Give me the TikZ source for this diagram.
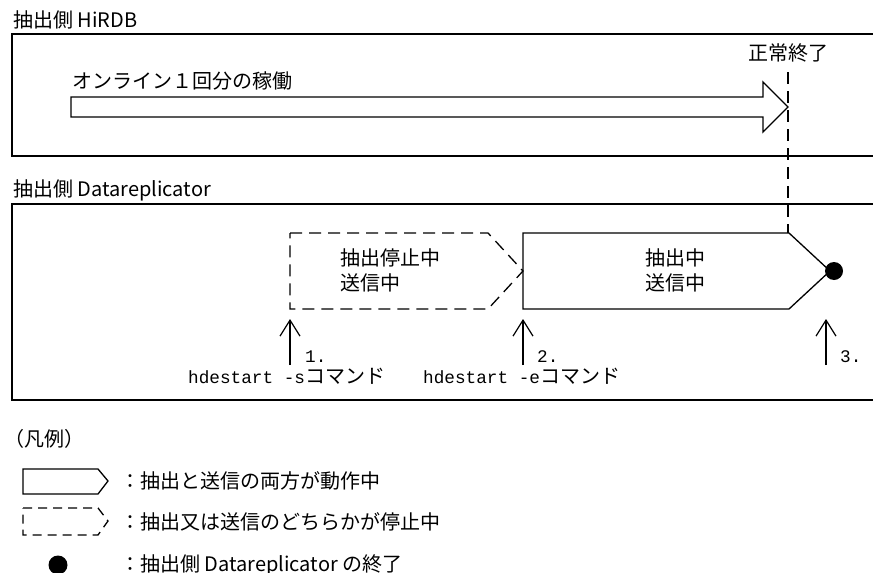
\documentclass[tikz,border=0pt]{standalone}
\usepackage{fontspec}
\setmainfont{Noto Sans CJK JP}
\newfontfamily\cmdlatin{Liberation Mono}
\usepackage{tikz}
\usetikzlibrary{arrows.meta,positioning}
\newcommand{\figfont}{\fontsize{20pt}{25pt}\selectfont}
\newcommand{\cmdfont}{\fontsize{17.7pt}{22pt}\selectfont\cmdlatin}

\begin{document}
\begin{tikzpicture}[
  x=1pt, y=-1pt,
  txt/.style={inner sep=0pt, font=\figfont},
  frame/.style={line width=1.4pt},
  run/.style={draw, line width=1.3pt},
  halt/.style={draw, line width=1.3pt, dash pattern=on 12pt off 7pt},
  up/.style={-{Straight Barb[length=16pt,width=20pt]}, line width=1.2pt}
]
\useasboundingbox (0,0) rectangle (873,573);

% extraction side HiRDB
\node[txt, anchor=west] (hirdb) at (13,20) {抽出側 HiRDB};
\draw[frame] (873,34) -- (12,34) -- (12,156) -- (873,156);
\node[txt, anchor=west] (online) at (72,81) {オンライン１回分の稼働};
\draw[run] (71,97) -- (763,97) -- (763,82) -- (788,107) -- (763,132) -- (763,117) -- (71,117) -- cycle;
\node[txt] (ok) at (788,53) {正常終了};

% extraction side Datareplicator
\node[txt, anchor=west] (drep) at (13,190) {抽出側 Datareplicator};
\draw[frame] (873,204) -- (12,204) -- (12,400) -- (873,400);

\draw[halt] (290,233) -- (488,233) -- (523,271) -- (488,309) -- (290,309) -- cycle;
\node[txt, align=left] (stop) at (390,270) {抽出停止中\\送信中};
\draw[run] (523,233) -- (789,233) -- (830,271) -- (789,309) -- (523,309) -- cycle;
\node[txt, align=center] (work) at (675,270) {抽出中\\送信中};
\fill (834,271) circle (9);

\coordinate (okt) at (788,72);
\coordinate (okb) at (788,233);
\draw[line width=1.3pt, dash pattern=on 12pt off 7pt] (okt) -- (okb);

% commands
\coordinate (b1) at (290,365); \coordinate (t1) at (290,319);
\coordinate (b2) at (523,365); \coordinate (t2) at (523,319);
\coordinate (b3) at (826,365); \coordinate (t3) at (826,319);
\foreach \b/\t in {b1/t1,b2/t2,b3/t3}
  \draw[up] (\b) -- (\t);
\node[txt, anchor=west] (n1) at (305,357) {\cmdfont 1.};
\node[txt, anchor=west] (n2) at (537,357) {\cmdfont 2.};
\node[txt, anchor=west] (n3) at (840,357) {\cmdfont 3.};
\node[txt, anchor=west] (cmd1) at (188,376) {{\cmdfont hdestart -s}コマンド};
\node[txt, anchor=west] (cmd2) at (423,376) {{\cmdfont hdestart -e}コマンド};

% legend
\node[txt, anchor=west] (leg) at (4,439) {（凡例）};
\draw[run] (23,469) -- (98,469) -- (108,481) -- (98,494) -- (23,494) -- cycle;
\node[txt, anchor=west] (l1) at (120,481) {：抽出と送信の両方が動作中};
\draw[run, dash pattern=on 9pt off 6pt] (23,508) -- (98,508) -- (108,521) -- (98,535) -- (23,535) -- cycle;
\node[txt, anchor=west] (l2) at (120,522) {：抽出又は送信のどちらかが停止中};
\fill (58,565) circle (9.5);
\node[txt, anchor=west] (l3) at (120,565) {：抽出側 Datareplicator の終了};
\end{tikzpicture}
\end{document}
